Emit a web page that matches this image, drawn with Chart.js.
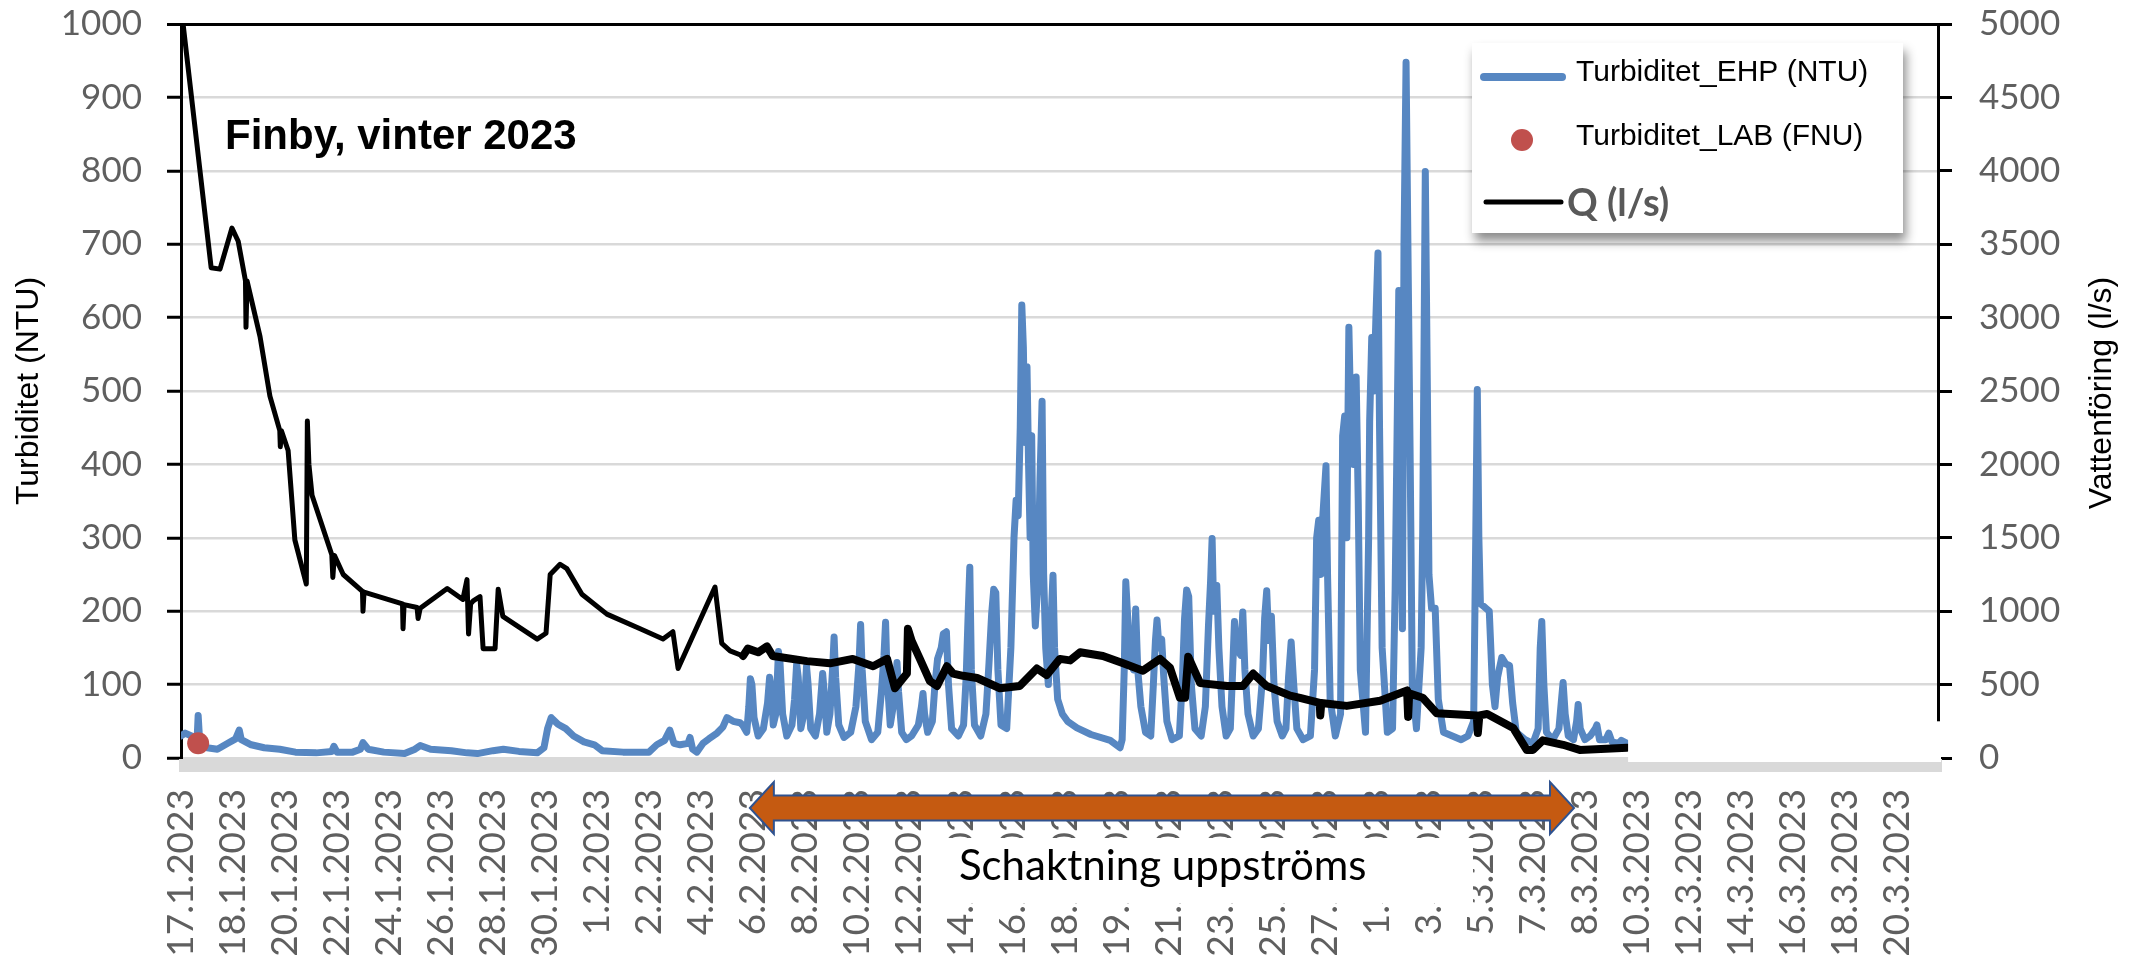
<!DOCTYPE html>
<html><head><meta charset="utf-8">
<script src="https://cdn.jsdelivr.net/npm/chart.js@4.4.1/dist/chart.umd.min.js"></script>
<style>html,body{margin:0;padding:0;background:#fff;}#wrap{width:2133px;height:961px;}</style>
</head><body><div id="wrap"><canvas id="c" width="2133" height="961"></canvas></div>
<script>
// ---- categories (x tick labels, one per slot) ----
const xLabels = ['17.1.2023','18.1.2023','20.1.2023','22.1.2023','24.1.2023','26.1.2023','28.1.2023','30.1.2023','1.2.2023','2.2.2023','4.2.2023','6.2.2023','8.2.2023','10.2.2023','12.2.2023','14.2.2023','16.2.2023','18.2.2023','19.2.2023','21.2.2023','23.2.2023','25.2.2023','27.2.2023','1.3.2023','3.3.2023','5.3.2023','7.3.2023','8.3.2023','10.3.2023','12.3.2023','14.3.2023','16.3.2023','18.3.2023','20.3.2023'];
const yTicks = [0,100,200,300,400,500,600,700,800,900,1000];
const y2Ticks = [0,500,1000,1500,2000,2500,3000,3500,4000,4500,5000];

// ---- series: [position on label axis, value] ----
const ehpSeries = [
[0.00,30],[0.08,34],[0.20,30],[0.31,26],[0.33,58],[0.36,22],[0.50,14],[0.70,12],[0.90,20],[1.05,26],[1.12,38],[1.16,25],[1.35,18],[1.60,14],[1.90,12],[2.20,8],[2.60,7],[2.90,9],[2.94,16],[3.00,8],[3.30,8],[3.45,12],[3.50,21],[3.60,12],[3.90,8],[4.30,6],[4.50,12],[4.60,17],[4.80,12],[5.20,10],[5.50,7],[5.70,6],[6.00,10],[6.20,12],[6.50,9],[6.85,7],[6.98,14],[7.05,40],[7.12,55],[7.25,46],[7.40,40],[7.55,30],[7.75,22],[7.95,18],[8.10,10],[8.50,8],[9.00,8],[9.15,18],[9.30,24],[9.40,38],[9.48,20],[9.60,18],[9.75,20],[9.79,28],[9.84,12],[9.92,8],[10.04,20],[10.15,26],[10.31,34],[10.42,42],[10.50,55],[10.62,50],[10.75,48],
[10.80,45],[10.88,35],[10.92,70],[10.95,108],[10.98,100],[11.02,55],[11.10,30],[11.20,40],[11.28,75],[11.32,110],[11.35,95],[11.39,45],[11.44,60],[11.49,145],[11.52,130],[11.57,60],[11.65,30],[11.75,45],[11.80,80],[11.84,128],[11.87,110],[11.92,40],[11.98,60],[12.03,125],[12.06,100],[12.11,40],[12.20,30],[12.28,60],[12.34,115],[12.37,90],[12.42,35],[12.48,60],[12.53,120],[12.56,165],[12.59,110],[12.65,45],[12.75,28],[12.88,35],[12.98,70],[13.04,130],[13.07,182],[13.10,120],[13.16,50],[13.28,25],[13.40,35],[13.47,90],[13.52,140],[13.55,185],[13.58,110],[13.64,45],[13.72,80],[13.77,130],[13.80,90],[13.86,35],[13.95,25],
[14.05,30],[14.18,45],[14.24,70],[14.27,88],[14.30,60],[14.36,35],[14.45,50],[14.50,100],[14.55,135],[14.62,150],[14.66,169],[14.72,172],[14.76,100],[14.82,40],[14.95,30],[15.05,45],[15.10,110],[15.14,200],[15.17,260],[15.20,120],[15.26,45],[15.38,30],[15.48,60],[15.54,130],[15.59,196],[15.63,230],[15.67,225],[15.71,120],[15.77,45],[15.88,40],[15.96,150],[16.02,300],[16.06,351],[16.10,330],[16.14,450],[16.17,617],[16.20,560],[16.23,430],[16.27,533],[16.30,400],[16.33,300],[16.36,439],[16.39,250],[16.43,180],[16.48,240],[16.52,380],[16.56,486],[16.59,250],[16.63,150],[16.68,100],[16.74,200],[16.77,249],[16.80,150],[16.86,80],[16.95,60],[17.05,50],[17.23,41],[17.50,32],[17.87,24],[18.06,14],
[18.10,25],[18.14,120],[18.17,240],[18.20,200],[18.25,130],[18.32,120],[18.36,203],[18.40,120],[18.46,70],[18.55,35],[18.65,30],[18.70,100],[18.74,160],[18.77,188],[18.81,150],[18.86,162],[18.90,110],[18.96,50],[19.06,25],[19.20,30],[19.26,110],[19.30,190],[19.34,229],[19.38,220],[19.43,100],[19.50,40],[19.62,30],[19.70,70],[19.76,180],[19.80,240],[19.83,299],[19.86,200],[19.92,235],[19.96,150],[20.02,70],[20.10,30],[20.18,40],[20.22,110],[20.26,186],[20.30,150],[20.38,140],[20.42,199],[20.46,120],[20.52,60],[20.62,30],[20.72,40],[20.80,110],[20.84,190],[20.88,228],[20.92,160],[20.97,193],[21.02,100],[21.08,50],[21.18,30],
[21.25,40],[21.30,110],[21.35,158],[21.40,100],[21.46,40],[21.58,25],[21.72,30],[21.80,120],[21.84,300],[21.88,324],[21.92,250],[21.96,330],[22.02,398],[22.05,250],[22.10,80],[22.20,30],[22.30,60],[22.34,439],[22.38,466],[22.42,300],[22.46,587],[22.50,450],[22.55,400],[22.60,519],[22.64,350],[22.68,120],[22.78,35],[22.84,300],[22.86,459],[22.90,573],[22.94,500],[22.98,600],[23.02,688],[23.05,450],[23.10,150],[23.20,35],[23.30,40],[23.35,229],[23.38,400],[23.42,637],[23.46,400],[23.49,176],[23.52,700],[23.56,948],[23.60,668],[23.64,400],[23.68,100],[23.76,40],[23.85,150],[23.88,307],[23.93,799],[23.97,500],[24.00,250],[24.05,204],[24.12,204],[24.18,80],[24.28,35],[24.45,30],[24.62,25],[24.75,30],
[24.86,50],[24.90,300],[24.93,502],[24.96,300],[24.99,210],[25.08,205],[25.16,200],[25.22,100],[25.27,70],[25.32,110],[25.40,137],[25.48,128],[25.55,126],[25.61,75],[25.68,35],[25.85,25],[26.00,20],[26.10,40],[26.14,150],[26.17,186],[26.21,100],[26.26,35],[26.38,25],[26.50,40],[26.55,80],[26.58,103],[26.62,60],[26.68,30],[26.78,25],[26.84,50],[26.87,73],[26.91,40],[27.00,25],[27.10,30],[27.20,40],[27.23,45],[27.28,25],[27.40,25],[27.46,34],[27.52,22],[27.65,20],[27.70,24],[27.81,20]
];
const labSeries = [[0.33,20]];
const qSeries = [
[0.04,5000],[0.58,3340],[0.75,3330],[0.98,3610],[1.10,3520],[1.24,3250],[1.25,2935],[1.27,3250],[1.52,2870],[1.71,2465],[1.90,2230],[1.91,2120],[1.93,2230],[2.06,2095],[2.19,1485],[2.41,1185],[2.43,2295],[2.46,2000],[2.52,1790],[2.90,1385],[2.92,1230],[2.95,1380],[3.12,1250],[3.49,1135],[3.50,1000],[3.52,1130],[4.26,1050],[4.27,880],[4.29,1045],[4.54,1025],[4.56,950],[4.60,1020],[5.12,1155],[5.42,1080],[5.50,1215],[5.53,845],[5.57,1050],[5.62,1070],[5.75,1100],[5.81,745],[6.04,745],[6.10,1150],[6.19,965],[6.85,810],[7.02,850],[7.10,1250],[7.29,1320],[7.42,1290],[7.71,1115],[8.19,980],[8.83,880],[9.27,810],[9.46,860],[9.56,610],[10.27,1165],[10.40,780],[10.56,730],[10.81,695],[10.90,745],[11.10,720],[11.27,760],[11.38,695],[12.04,660],[12.48,645],[12.92,675],[13.31,625],[13.58,675],[13.73,475],[13.96,575],[13.98,880],[14.05,800],[14.21,675],[14.40,525],[14.54,490],[14.73,625],[14.85,575],[15.04,560],[15.31,545],[15.75,475],[16.13,490],[16.46,610],[16.65,565],[16.90,675],[17.10,665],[17.29,720],[17.73,695],[18.12,645],[18.50,595],[18.83,675],[19.02,615],[19.21,410],[19.31,410],[19.37,690],[19.60,510],[20.12,490],[20.42,490],[20.62,575],[20.88,490],[21.33,425],[21.52,410],[21.90,375],[21.91,290],[21.93,375],[22.42,355],[23.06,390],[23.58,460],[23.60,280],[23.62,440],[23.88,410],[24.15,305],[24.92,290],[24.94,170],[24.97,290],[25.12,300],[25.62,205],[25.88,55],[26.00,55],[26.19,120],[26.58,90],[26.90,55],[27.81,70]
];
// annotation span (label-axis positions)
const arrowFrom = 10.94, arrowTo = 26.79, noteAt = 18.88, coverFrom = 27.83, noisyFrom = 10.8;

const BLUE = '#5787C2', RED = '#C0504D', GRID = '#d9d9d9', TICK = '#5f5f5f';

const decor = {
  id: 'decor',
  afterDraw(chart) {
    const {ctx, chartArea: a, scales: {x, y}} = chart;
    ctx.save();
    ctx.fillStyle = GRID;
    ctx.fillRect(a.left - 2, a.bottom + 1, a.right - a.left + 6, 13);
    ctx.fillStyle = '#fff';
    const c0 = x.getPixelForValue(coverFrom);
    ctx.fillRect(c0, y.getPixelForValue(50), a.right + 3 - c0, y.getPixelForValue(0) + 4 - y.getPixelForValue(50));
    ctx.fillStyle = '#000';
    ctx.font = 'bold 42px "Liberation Sans", Arial, sans-serif';
    ctx.textAlign = 'left'; ctx.textBaseline = 'alphabetic';
    ctx.fillText('Finby, vinter 2023', 225, 149);
    ctx.save();
    ctx.translate(2111, 393); ctx.rotate(-Math.PI / 2);
    ctx.font = '32px "Liberation Sans", Arial, sans-serif';
    ctx.textAlign = 'center';
    ctx.fillText('Vattenföring (l/s)', 0, 0);
    ctx.restore();
    ctx.save();
    ctx.shadowColor = 'rgba(0,0,0,0.45)'; ctx.shadowBlur = 10; ctx.shadowOffsetX = 3; ctx.shadowOffsetY = 8;
    ctx.fillStyle = '#fff';
    ctx.fillRect(1472, 43, 431, 190);
    ctx.restore();
    ctx.lineCap = 'round';
    ctx.strokeStyle = BLUE; ctx.lineWidth = 8;
    ctx.beginPath(); ctx.moveTo(1484, 77); ctx.lineTo(1562, 77); ctx.stroke();
    ctx.fillStyle = RED;
    ctx.beginPath(); ctx.arc(1522, 140, 11, 0, Math.PI * 2); ctx.fill();
    ctx.strokeStyle = '#000'; ctx.lineWidth = 5;
    ctx.beginPath(); ctx.moveTo(1486, 202); ctx.lineTo(1561, 202); ctx.stroke();
    ctx.fillStyle = '#000'; ctx.textBaseline = 'middle'; ctx.textAlign = 'left';
    ctx.font = '30px "Liberation Sans", Arial, sans-serif';
    ctx.fillText('Turbiditet_EHP (NTU)', 1576, 73);
    ctx.fillText('Turbiditet_LAB (FNU)', 1576, 137);
    ctx.fillStyle = '#595959';
    ctx.font = 'bold 38px Lato, sans-serif';
    ctx.fillText('Q (l/s)', 1567, 204);
    ctx.fillStyle = '#fff';
    ctx.fillRect(926, 838, 547, 65);
    ctx.fillStyle = '#000';
    ctx.font = '42px Lato, sans-serif';
    ctx.textAlign = 'center';
    ctx.fillText('Schaktning uppströms', x.getPixelForValue(noteAt), 866);
    const L = x.getPixelForValue(arrowFrom), R = x.getPixelForValue(arrowTo), cy = 808;
    const hl = 24, hh = 26, bh = 12.5;
    ctx.beginPath();
    ctx.moveTo(L, cy); ctx.lineTo(L + hl, cy - hh); ctx.lineTo(L + hl, cy - bh); ctx.lineTo(R - hl, cy - bh);
    ctx.lineTo(R - hl, cy - hh); ctx.lineTo(R, cy); ctx.lineTo(R - hl, cy + hh); ctx.lineTo(R - hl, cy + bh);
    ctx.lineTo(L + hl, cy + bh); ctx.lineTo(L + hl, cy + hh); ctx.closePath();
    ctx.fillStyle = '#C55A11'; ctx.fill();
    ctx.strokeStyle = '#2F528F'; ctx.lineWidth = 2; ctx.lineJoin = 'miter'; ctx.stroke();
    ctx.restore();
  }
};

const toXY = s => s.map(([x, y]) => ({x, y}));
const fixV = w => s => { s.width = w; s.paddingTop = 0; s.paddingBottom = 0; };

new Chart(document.getElementById('c'), {
  type: 'line',
  data: {
    datasets: [
      {label: 'Turbiditet_LAB (FNU)', type: 'scatter', data: toXY(labSeries), yAxisID: 'y',
       backgroundColor: RED, borderWidth: 0, pointRadius: 11, order: 0},
      {label: 'Q (l/s)', data: toXY(qSeries), yAxisID: 'y2', borderColor: '#000', borderWidth: 5,
       segment: {borderWidth: c => c.p0.parsed.x >= noisyFrom ? 8 : 5},
       pointRadius: 0, tension: 0, borderJoinStyle: 'round', borderCapStyle: 'round', order: 1},
      {label: 'Turbiditet_EHP (NTU)', data: toXY(ehpSeries), yAxisID: 'y', borderColor: BLUE, borderWidth: 7,
       pointRadius: 0, tension: 0, borderJoinStyle: 'round', borderCapStyle: 'round', order: 2}
    ]
  },
  options: {
    responsive: false, animation: false, devicePixelRatio: 1,
    layout: {padding: {top: 24, left: 0, right: 0, bottom: 0}},
    plugins: {legend: {display: false}, tooltip: {enabled: false}},
    scales: {
      x: {
        type: 'linear', min: 0, max: 33.79,
        afterBuildTicks: s => { s.ticks = xLabels.map((_, i) => ({value: i})); },
        afterFit: s => { s.height = 203; s.paddingLeft = 0; s.paddingRight = 0; },
        grid: {display: false, drawTicks: false}, border: {display: false},
        ticks: {autoSkip: false, minRotation: 90, maxRotation: 90, padding: 31, color: TICK,
                font: {family: 'Lato', size: 37}, callback: v => xLabels[v]}
      },
      y: {
        position: 'left', min: 0, max: 1000,
        afterBuildTicks: s => { s.ticks = yTicks.map(v => ({value: v})); },
        afterFit: fixV(181),
        grid: {color: c => (c.tick && c.tick.value === 1000) ? '#000' : GRID,
               lineWidth: c => (c.tick && c.tick.value === 1000) ? 3 : 2.5,
               tickColor: '#000', tickLength: 14, tickWidth: 3},
        border: {color: '#000', width: 3},
        ticks: {padding: 25, color: TICK, font: {family: 'Lato', size: 35}, callback: v => String(v)},
        title: {display: true, text: 'Turbiditet (NTU)', color: '#000',
                font: {family: 'Liberation Sans', size: 32, lineHeight: 1}, padding: {top: 13, bottom: 0}}
      },
      y2: {
        position: 'right', min: 0, max: 5000,
        afterBuildTicks: s => { s.ticks = y2Ticks.map(v => ({value: v})); },
        afterFit: fixV(195),
        grid: {drawOnChartArea: false, tickColor: '#000', tickLength: 14, tickWidth: 3},
        border: {color: '#000', width: 3},
        ticks: {padding: 27, color: TICK, font: {family: 'Lato', size: 35}, callback: v => String(v)}
      }
    }
  },
  plugins: [decor]
});
</script>
</body></html>
